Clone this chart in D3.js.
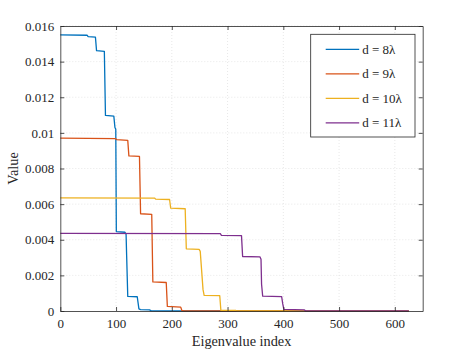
<!DOCTYPE html>
<html>
<head>
<meta charset="utf-8">
<script src="https://cdn.jsdelivr.net/npm/d3@7"></script>
<style>
  body { margin: 0; background: #fff; }
  svg text { font-family: "Liberation Serif", "Times New Roman", serif !important; fill: #262626; }
</style>
</head>
<body>
<svg class="chart"></svg>
<script>
// eigenvalue curves (index, value)
var idx8 = [0, 48, 50, 63, 65, 79, 81, 96, 98, 99.5, 100.5, 116, 118, 119, 121, 138, 141, 144, 160, 163, 200, 625];
var val8 = [0.01550, 0.01548, 0.01540, 0.01538, 0.01462, 0.01458, 0.01098, 0.01094, 0.01030, 0.01020, 0.00446, 0.00442, 0.00430, 0.00310, 0.00082, 0.00080, 0.00012, 0.00008, 0.00006, 0.00001, 0, 0];

var idx9 = [0, 99, 101, 121, 123, 142, 144, 164, 166, 190, 192, 216, 218, 222, 625];
var val9 = [0.00970, 0.00968, 0.00962, 0.00958, 0.00871, 0.00868, 0.00546, 0.00543, 0.00163, 0.00160, 0.00026, 0.00022, 0.00003, 0, 0];

var idx10 = [0, 169, 171, 196, 198, 224, 226, 249, 251, 256, 258, 286, 288, 315, 317, 625];
var val10 = [0.00635, 0.00634, 0.00628, 0.00626, 0.00577, 0.00574, 0.00349, 0.00346, 0.00335, 0.00120, 0.00088, 0.00086, 0.00004, 0.00003, 0, 0];

var idx11 = [0, 287, 289, 325, 327, 358, 360, 361, 363, 397, 399, 401, 438, 440, 625];
var val11 = [0.00436, 0.00434, 0.00425, 0.00423, 0.00306, 0.00304, 0.00290, 0.00150, 0.00083, 0.00081, 0.00040, 0.00009, 0.00006, 0, 0];

var seriesNames = ["d = 8\u03bb", "d = 9\u03bb", "d = 10\u03bb", "d = 11\u03bb"];
var colors = ["#0072BD", "#D95319", "#EDB120", "#7E2F8E"];

var xTicks = [0, 100, 200, 300, 400, 500, 600];
var yTicks = [0, 0.002, 0.004, 0.006, 0.008, 0.01, 0.012, 0.014, 0.016];
var yTickLabels = ["0", "0.002", "0.004", "0.006", "0.008", "0.01", "0.012", "0.014", "0.016"];

var series = [[idx8, val8], [idx9, val9], [idx10, val10], [idx11, val11]].map(function(s, i) {
  return { name: seriesNames[i], color: colors[i], pts: s[0].map(function(x, j) { return [x, s[1][j]]; }) };
});

var W = 467, H = 350;
const margin = {top: 26, right: 44.3, bottom: 39, left: 60.3};
var width = W - margin.left - margin.right;
var height = H - margin.top - margin.bottom;
var serif = '"Liberation Serif", "Times New Roman", serif';

const svg = d3.select('.chart').attr('width', W).attr('height', H);
const chart = svg.append('g').attr('transform', 'translate(' + margin.left + ',' + margin.top + ')');

var x = d3.scaleLinear().domain([0, 650]).range([0, width]);
var y = d3.scaleLinear().domain([0, 0.016]).range([height, 0]);

// grid
chart.append('g').selectAll('line').data(xTicks.slice(1)).enter().append('line')
  .attr('x1', function(d) { return x(d); }).attr('x2', function(d) { return x(d); })
  .attr('y1', 0).attr('y2', height)
  .attr('stroke', '#d9d9d9').attr('stroke-width', 0.6).attr('stroke-dasharray', '1,2');
chart.append('g').selectAll('line').data(yTicks.slice(1)).enter().append('line')
  .attr('y1', function(d) { return y(d); }).attr('y2', function(d) { return y(d); })
  .attr('x1', 0).attr('x2', width)
  .attr('stroke', '#d9d9d9').attr('stroke-width', 0.6).attr('stroke-dasharray', '1,2');

// curves
var line = d3.line().x(function(d) { return x(d[0]); }).y(function(d) { return y(d[1]); });
chart.selectAll('.curve').data(series).enter().append('path')
  .attr('class', 'curve')
  .attr('d', function(d) { return line(d.pts); })
  .attr('fill', 'none')
  .attr('stroke', function(d) { return d.color; })
  .attr('stroke-width', 1.3)
  .attr('stroke-linejoin', 'round');

// axes (ticks inward, box on all sides)
var tk = 4;
var xb = chart.append('g').attr('transform', 'translate(0,' + height + ')')
  .call(d3.axisBottom(x).tickValues(xTicks).tickSizeInner(-tk).tickSizeOuter(0).tickPadding(8));
var xt = chart.append('g')
  .call(d3.axisTop(x).tickValues(xTicks).tickSizeInner(-tk).tickSizeOuter(0).tickFormat(''));
var yl = chart.append('g')
  .call(d3.axisLeft(y).tickValues(yTicks).tickSizeInner(-tk).tickSizeOuter(0).tickPadding(6)
    .tickFormat(function(d, i) { return yTickLabels[i]; }));
var yr = chart.append('g').attr('transform', 'translate(' + width + ',0)')
  .call(d3.axisRight(y).tickValues(yTicks).tickSizeInner(-tk).tickSizeOuter(0).tickFormat(''));

[xb, xt, yl, yr].forEach(function(g) {
  g.attr('font-family', serif).attr('font-size', 13);
  g.select('.domain').attr('stroke', '#262626').attr('stroke-width', 0.8);
  g.selectAll('.tick line').attr('stroke', '#262626').attr('stroke-width', 0.8);
  g.selectAll('.tick text').style('font-family', serif).style('font-size', '13px').attr('fill', '#262626');
});
// the first (zero) ticks sit on the box edges
xt.selectAll('.tick').filter(function(d) { return d === 0; }).remove();
yr.selectAll('.tick').filter(function(d) { return d === 0; }).remove();

// labels
svg.append('text')
  .attr('x', margin.left + width / 2).attr('y', 346)
  .attr('text-anchor', 'middle').style('font-size', '14.3px')
  .text('Eigenvalue index');
svg.append('text')
  .attr('transform', 'translate(18,' + (margin.top + height / 2) + ') rotate(-90)')
  .attr('text-anchor', 'middle').style('font-size', '14.3px')
  .text('Value');

// legend
var lg = svg.append('g').attr('transform', 'translate(310.7,34.3)');
lg.append('rect').attr('width', 104.3).attr('height', 102.7)
  .attr('fill', '#fff').attr('stroke', '#262626').attr('stroke-width', 0.8);
var row = lg.selectAll('.row').data(series).enter().append('g')
  .attr('transform', function(d, i) { return 'translate(0,' + (15 + i * 24.5) + ')'; });
row.append('line').attr('x1', 15).attr('x2', 48.5).attr('y1', 0).attr('y2', 0)
  .attr('stroke', function(d) { return d.color; }).attr('stroke-width', 1.3);
row.append('text').attr('x', 51.5).attr('y', 4.5).style('font-size', '13px')
  .text(function(d) { return d.name; });
</script>
</body>
</html>
